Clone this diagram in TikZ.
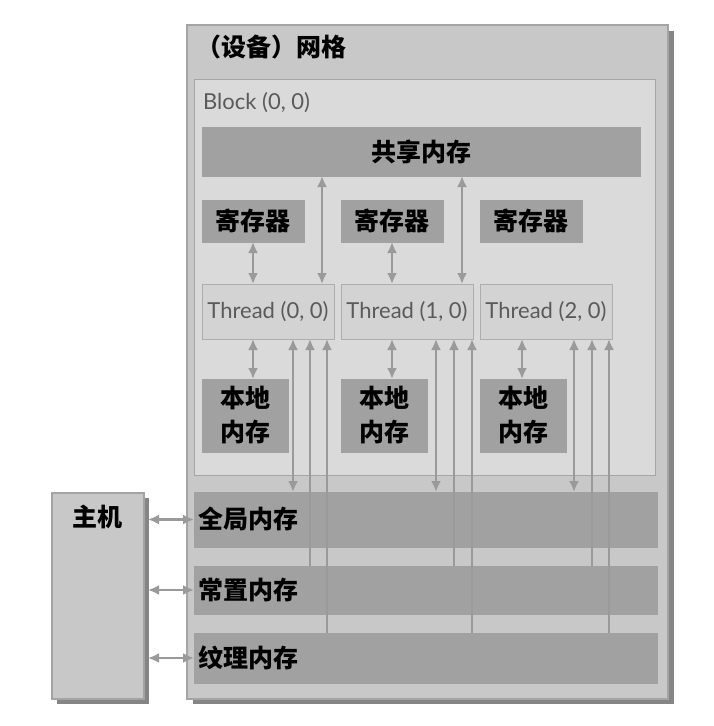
\documentclass[tikz,border=0pt]{standalone}
\usepackage{fontspec}
\setmainfont{Lato}
\newfontfamily\cjk{Noto Sans CJK SC}
\usetikzlibrary{arrows.meta,calc}
\definecolor{gridfill}{HTML}{C8C8C8}
\definecolor{gridline}{HTML}{A4A4A4}
\definecolor{shadowc}{HTML}{858585}
\definecolor{blockfill}{HTML}{DADADA}
\definecolor{blockline}{HTML}{A6A6A6}
\definecolor{memfill}{HTML}{A1A1A1}
\definecolor{thrfill}{HTML}{D3D3D3}
\definecolor{thrline}{HTML}{ADADAD}
\definecolor{arrowc}{HTML}{9A9A9A}
\definecolor{labelc}{HTML}{5A5A5A}
\tikzset{
  boxbase/.style={inner sep=0pt, outer sep=0pt, anchor=north west},
  gridbox/.style={boxbase, fill=gridfill, draw=gridline, line width=1.5pt},
  blockbox/.style={boxbase, fill=blockfill, draw=blockline, line width=1pt},
  membox/.style={boxbase, fill=memfill, draw=memfill, line width=0.5pt, font=\cjk\bfseries\fontsize{25}{34}\selectfont, text=black},
  thrbox/.style={boxbase, fill=thrfill, draw=thrline, line width=1pt, font=\fontsize{22}{26}\selectfont, text=labelc},
  cjklabel/.style={inner sep=0pt, font=\cjk\bfseries\fontsize{25}{30}\selectfont, text=black},
  latlabel/.style={inner sep=0pt, font=\fontsize{22}{26}\selectfont, text=labelc},
  dbl/.style={draw=arrowc, line width=2.2pt, {Latex[length=11pt,width=10pt]}-{Latex[length=11pt,width=10pt]}},
  uparr/.style={draw=arrowc, line width=2.2pt, -{Latex[length=11pt,width=10pt]}},
}
\begin{document}
\begin{tikzpicture}[x=1pt,y=-1pt]
\useasboundingbox (0,0) rectangle (714,726);
\fill[white] (0,0) rectangle (714,726);
% grid with shadow
\fill[shadowc] (193,31) rectangle (674,704);
\node[gridbox, minimum width=481pt, minimum height=674pt] (grid) at (187,25) {};
\node[cjklabel, anchor=west] (title) at (196,47) {（设备）网格};
% block
\node[blockbox, minimum width=461pt, minimum height=396pt] (block) at (194,79) {};
\node[latlabel, anchor=west] (blocklbl) at (203,103) {Block (0, 0)};
% shared memory
\node[membox, minimum width=438pt, minimum height=49pt] (shared) at (202,127) {共享内存};
% registers
\node[membox, minimum width=102pt, minimum height=42pt] (reg0) at (202,200) {寄存器};
\node[membox, minimum width=102pt, minimum height=42pt] (reg1) at (341,200) {寄存器};
\node[membox, minimum width=102pt, minimum height=42pt] (reg2) at (480,200) {寄存器};
% threads
\node[thrbox, minimum width=132pt, minimum height=55pt] (thr0) at (202,284) {Thread (0, 0)};
\node[thrbox, minimum width=132pt, minimum height=55pt] (thr1) at (341,284) {Thread (1, 0)};
\node[thrbox, minimum width=132pt, minimum height=55pt] (thr2) at (480,284) {Thread (2, 0)};
% local memories
\node[membox, minimum width=86pt, minimum height=73pt, align=center] (loc0) at (202,379) {本地\\内存};
\node[membox, minimum width=86pt, minimum height=73pt, align=center] (loc1) at (341,379) {本地\\内存};
\node[membox, minimum width=86pt, minimum height=73pt, align=center] (loc2) at (480,379) {本地\\内存};
% global / constant / texture bars
\node[membox, minimum width=463pt, minimum height=55pt] (glob) at (194,492) {};
\node[membox, minimum width=463pt, minimum height=48pt] (const) at (194,566) {};
\node[membox, minimum width=463pt, minimum height=50pt] (tex) at (194,633) {};
\node[cjklabel, anchor=west] (globlbl) at (198,519) {全局内存};
\node[cjklabel, anchor=west] (constlbl) at (198,590) {常置内存};
\node[cjklabel, anchor=west] (texlbl) at (198,658) {纹理内存};
% host
\fill[shadowc] (57,498) rectangle (149,704);
\node[gridbox, minimum width=92pt, minimum height=206pt] (host) at (52,493) {};
\node[cjklabel] (hostlbl) at (97,517) {主机};
% host arrows
\draw[dbl, shorten <=4pt] (host.east |- glob.west) -- (glob.west);
\draw[dbl, shorten <=4pt] (host.east |- const.west) -- (const.west);
\draw[dbl, shorten <=4pt] (host.east |- tex.west) -- (tex.west);
% register <-> thread
\draw[dbl] (reg0.south) -- (reg0.south |- thr0.north);
\draw[dbl] (reg1.south) -- (reg1.south |- thr1.north);
% shared <-> thread
\coordinate (s0) at ($(thr0.north west)+(120,0)$);
\coordinate (s1) at ($(thr1.north west)+(121,0)$);
\draw[dbl] (s0 |- shared.south) -- (s0);
\draw[dbl] (s1 |- shared.south) -- (s1);
% thread <-> local
\coordinate (l0) at ($(thr0.south west)+(51,0)$);
\coordinate (l1) at ($(thr1.south west)+(51,0)$);
\coordinate (l2) at ($(thr2.south west)+(42,0)$);
\draw[dbl] (l0) -- (l0 |- loc0.north);
\draw[dbl] (l1) -- (l1 |- loc1.north);
\draw[dbl] (l2) -- (l2 |- loc2.north);
% thread <-> global, constant/texture -> thread
\foreach \t/\a/\b/\c in {thr0/91/108/125, thr1/95/113/131, thr2/94/112/129} {
  \coordinate (\t-a) at ($(\t.south west)+(\a,0)$);
  \coordinate (\t-b) at ($(\t.south west)+(\b,0)$);
  \coordinate (\t-c) at ($(\t.south west)+(\c,0)$);
  \draw[dbl] (\t-a) -- (\t-a |- glob.north);
  \draw[uparr] (\t-b |- const.north) -- (\t-b);
  \draw[uparr] (\t-c |- tex.north) -- (\t-c);
}
\end{tikzpicture}
\end{document}
